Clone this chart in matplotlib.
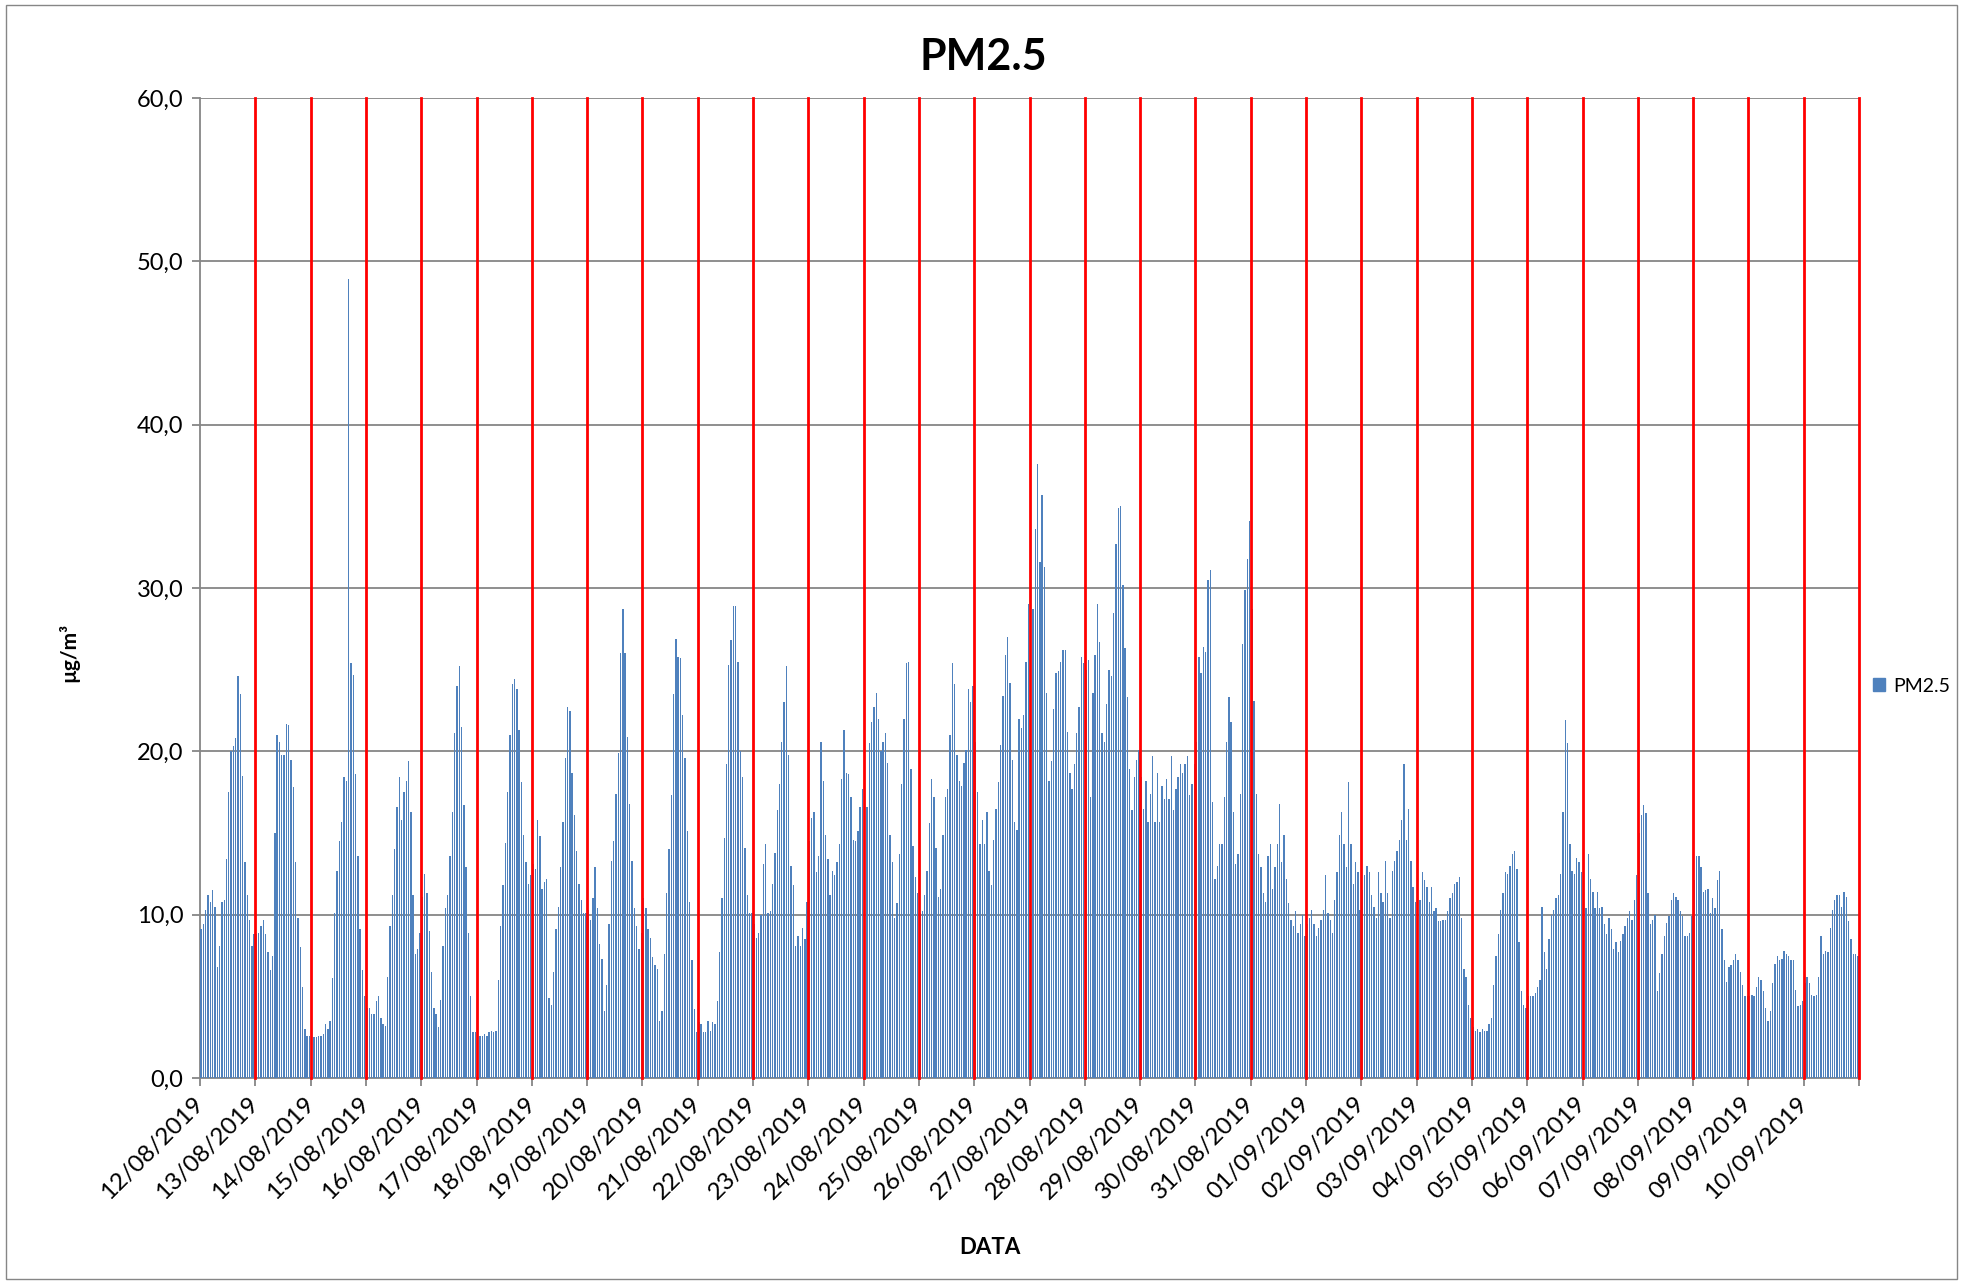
import numpy as np
import matplotlib.pyplot as plt
from matplotlib.patches import Rectangle, Patch
from matplotlib.ticker import FuncFormatter

plt.rcParams['font.family'] = ['Lato', 'DejaVu Sans']

# Hourly PM2.5 (ug/m3), one list per day
d1208 = [9.1, 9.4, 10.3, 11.2, 10.8, 11.5, 10.5, 6.8, 8.1, 10.8, 10.9, 13.4, 17.5, 20.0, 20.3, 20.8, 24.6, 23.5, 18.5, 13.2, 11.2, 9.7, 8.1, 8.8]
d1308 = [8.8, 8.9, 9.3, 9.7, 8.8, 7.7, 6.6, 7.5, 15.0, 21.0, 20.6, 19.8, 19.8, 21.7, 21.6, 19.5, 17.8, 13.2, 9.8, 8.0, 5.6, 3.0, 2.6, 2.6]
d1408 = [2.5, 2.5, 2.5, 2.6, 2.6, 2.7, 3.3, 3.0, 3.5, 6.1, 10.1, 12.7, 14.5, 15.7, 18.4, 18.2, 48.9, 25.4, 24.7, 18.6, 13.6, 9.1, 6.6, 5.0]
d1508 = [4.3, 4.3, 3.9, 3.9, 4.7, 5.0, 3.7, 3.3, 3.2, 6.2, 9.3, 11.2, 14.0, 16.6, 18.4, 15.8, 17.5, 18.2, 19.4, 16.3, 11.2, 7.6, 7.9, 8.9]
d1608 = [11.1, 12.5, 11.3, 9.0, 6.5, 4.3, 3.9, 3.1, 4.8, 8.1, 10.4, 11.2, 13.6, 16.3, 21.1, 24.0, 25.2, 21.5, 16.7, 12.9, 8.9, 5.0, 2.8, 2.8]
d1708 = [2.7, 2.6, 2.6, 2.7, 2.6, 2.8, 2.9, 2.8, 2.9, 6.0, 9.3, 11.8, 14.4, 17.5, 21.0, 24.1, 24.4, 23.8, 21.3, 18.1, 14.9, 13.2, 11.9, 12.4]
d1808 = [13.1, 12.8, 15.8, 14.8, 11.6, 12.0, 12.2, 4.9, 4.5, 6.5, 9.1, 10.5, 12.9, 15.7, 19.6, 22.7, 22.5, 18.7, 16.1, 13.9, 11.9, 10.9, 10.1, 10.1]
d1908 = [10.3, 9.7, 11.0, 12.9, 10.4, 8.2, 7.3, 4.1, 5.7, 9.4, 13.3, 14.5, 17.4, 19.9, 26.0, 28.7, 26.0, 20.9, 16.8, 13.3, 10.4, 9.3, 7.9, 8.9]
d2008 = [11.0, 10.4, 9.1, 8.6, 7.4, 6.9, 6.7, 3.5, 4.1, 7.6, 11.3, 14.0, 17.3, 23.5, 26.9, 25.8, 25.7, 22.2, 19.6, 15.1, 10.8, 7.2, 4.2, 2.8]
d2108 = [3.4, 3.3, 2.8, 2.8, 3.5, 2.9, 3.4, 3.3, 4.7, 7.7, 11.0, 14.7, 19.2, 25.3, 26.8, 28.9, 28.9, 25.5, 20.0, 18.4, 14.1, 11.2, 10.1, 10.1]
d2208 = [9.4, 8.6, 8.9, 10.0, 13.1, 14.3, 10.1, 10.2, 11.9, 13.8, 16.4, 18.0, 20.6, 23.0, 25.2, 19.8, 13.0, 11.8, 8.1, 8.7, 8.1, 9.2, 8.5, 10.8]
d2308 = [14.5, 15.9, 16.3, 12.6, 13.6, 20.6, 18.2, 14.9, 13.4, 11.2, 12.7, 12.4, 13.2, 14.3, 18.3, 21.3, 18.7, 18.6, 17.2, 14.6, 14.5, 15.1, 16.6, 17.7]
d2408 = [17.5, 16.6, 20.5, 21.8, 22.7, 23.6, 22.0, 20.0, 20.6, 21.1, 19.3, 14.9, 13.2, 9.8, 10.7, 13.7, 18.0, 22.0, 25.4, 25.5, 18.9, 14.2, 12.3, 11.3]
d2508 = [10.1, 10.2, 11.2, 12.7, 15.6, 18.3, 17.2, 14.1, 11.1, 11.6, 14.9, 17.2, 17.7, 21.0, 25.4, 24.1, 19.8, 18.2, 17.9, 19.3, 20.1, 23.8, 23.0, 24.0]
d2608 = [20.6, 17.5, 14.3, 15.8, 14.3, 16.3, 12.7, 11.8, 14.6, 16.5, 18.1, 20.4, 23.4, 25.9, 27.0, 24.2, 19.5, 15.7, 15.2, 22.0, 21.4, 22.2, 25.5, 29.0]
d2708 = [30.7, 28.7, 33.6, 37.6, 31.6, 35.7, 31.3, 23.6, 18.2, 19.4, 22.6, 24.8, 24.9, 25.5, 26.2, 26.2, 21.2, 18.7, 17.7, 19.2, 21.1, 22.7, 25.8, 25.4]
d2808 = [25.0, 25.6, 17.2, 23.6, 25.9, 29.0, 26.7, 21.1, 20.6, 22.9, 25.0, 24.6, 28.5, 32.7, 34.9, 35.0, 30.2, 26.3, 23.3, 18.9, 16.4, 18.4, 19.5, 20.1]
d2908 = [18.4, 16.5, 18.2, 15.7, 17.4, 19.7, 15.7, 18.7, 15.7, 17.9, 17.1, 18.3, 17.1, 19.7, 16.4, 17.7, 18.4, 19.2, 18.7, 19.2, 19.7, 17.3, 18.0, 19.2]
d3008 = [20.6, 25.8, 24.8, 26.4, 26.1, 30.5, 31.1, 16.9, 12.2, 13.0, 14.3, 14.3, 17.2, 20.6, 23.3, 21.8, 16.3, 13.1, 13.7, 17.4, 26.6, 29.9, 31.8, 34.1]
d3108 = [28.7, 23.1, 17.4, 13.7, 12.9, 11.3, 10.8, 13.6, 14.3, 11.6, 12.9, 14.3, 16.8, 13.2, 14.9, 12.2, 10.7, 9.7, 9.3, 10.2, 8.9, 9.4, 10.0, 8.7]
d0109 = [9.4, 9.8, 10.3, 9.4, 8.7, 9.2, 9.7, 10.3, 12.4, 10.1, 9.7, 8.9, 10.9, 12.6, 14.9, 16.3, 14.3, 12.9, 18.1, 14.3, 11.9, 13.2, 12.6, 10.3]
d0209 = [11.5, 12.4, 13.0, 12.6, 11.2, 10.5, 9.8, 12.6, 11.3, 10.8, 13.3, 11.3, 9.8, 12.7, 13.3, 13.9, 14.6, 15.8, 19.2, 14.6, 16.5, 13.3, 11.7, 10.8]
d0309 = [10.3, 10.9, 12.6, 12.1, 11.7, 10.8, 11.7, 10.2, 10.4, 9.6, 9.6, 9.7, 9.7, 10.2, 11.0, 11.3, 11.9, 12.0, 12.3, 9.8, 6.7, 6.2, 4.5, 3.7]
d0409 = [3.1, 2.9, 3.0, 2.8, 3.0, 2.9, 2.9, 3.3, 3.7, 5.7, 7.5, 8.8, 10.3, 11.3, 12.6, 12.5, 13.0, 13.7, 13.9, 12.8, 8.3, 5.3, 4.5, 4.3]
d0509 = [5.0, 5.0, 5.0, 5.2, 5.6, 6.0, 10.5, 7.7, 6.7, 8.5, 10.0, 10.3, 11.0, 11.2, 12.5, 16.3, 21.9, 20.5, 14.3, 12.7, 12.5, 13.5, 13.2, 12.6]
d0609 = [11.3, 10.4, 13.7, 12.2, 11.4, 10.4, 11.4, 10.4, 10.5, 9.4, 8.8, 9.8, 9.1, 7.9, 8.3, 7.7, 8.4, 8.8, 9.3, 9.8, 10.2, 9.7, 10.9, 12.4]
d0709 = [15.0, 16.1, 16.7, 16.2, 11.3, 9.4, 9.7, 10.0, 5.3, 6.4, 7.6, 8.7, 9.5, 9.9, 10.9, 11.3, 11.1, 10.9, 10.2, 9.9, 8.7, 8.7, 8.9, 9.9]
d0809 = [12.1, 13.6, 13.6, 12.9, 11.4, 11.5, 11.6, 10.1, 11.0, 10.4, 12.1, 12.7, 9.1, 7.2, 5.9, 6.8, 6.9, 7.2, 7.6, 7.2, 6.5, 5.7, 5.0, 5.0]
d0909 = [5.0, 5.1, 5.0, 5.6, 6.2, 6.0, 5.3, 4.3, 3.5, 4.1, 5.8, 7.0, 7.5, 7.2, 7.3, 7.8, 7.6, 7.5, 7.2, 7.2, 5.4, 4.4, 4.5, 4.7]
d1009 = [5.8, 6.2, 5.8, 5.1, 5.0, 5.1, 6.2, 8.7, 7.6, 7.8, 7.7, 9.2, 10.3, 10.9, 11.2, 11.2, 10.5, 11.4, 11.1, 9.6, 8.5, 7.6, 7.6, 7.5]

# tick labels, one per day
day_labels = ['12/08/2019', '13/08/2019', '14/08/2019', '15/08/2019', '16/08/2019',
              '17/08/2019', '18/08/2019', '19/08/2019', '20/08/2019', '21/08/2019',
              '22/08/2019', '23/08/2019', '24/08/2019', '25/08/2019', '26/08/2019',
              '27/08/2019', '28/08/2019', '29/08/2019', '30/08/2019', '31/08/2019',
              '01/09/2019', '02/09/2019', '03/09/2019', '04/09/2019', '05/09/2019',
              '06/09/2019', '07/09/2019', '08/09/2019', '09/09/2019', '10/09/2019']

days = [d1208, d1308, d1408, d1508, d1608, d1708, d1808, d1908, d2008, d2108,
        d2208, d2308, d2408, d2508, d2608, d2708, d2808, d2908, d3008, d3108,
        d0109, d0209, d0309, d0409, d0509, d0609, d0709, d0809, d0909, d1009]

pm25 = np.concatenate(days)
hours = np.arange(len(pm25))
n_hours = 24 * len(days)

W, H = 1966, 1281
fig = plt.figure(figsize=(W / 100, H / 100), dpi=100)
ax = fig.add_axes([200 / W, 1 - 1078 / H, (1859 - 200) / W, (1078 - 98) / H])

bar_color = '#4F81BD'
grey = '#868686'

ax.bar(hours + 0.5, pm25, width=0.6, color=bar_color, linewidth=0, zorder=3)

ax.set_xlim(0, n_hours)
ax.set_ylim(0, 60)
ax.set_yticks(np.arange(0, 61, 10))
ax.yaxis.set_major_formatter(FuncFormatter(lambda v, p: f'{v:.1f}'.replace('.', ',')))
ax.grid(axis='y', color=grey, linewidth=1.3, zorder=1)

# red separators at every day boundary
for k in range(1, len(days) + 1):
    ax.axvline(24 * k, color='#FF0000', linewidth=2.0, zorder=4, clip_on=False)

ax.set_xticks(np.arange(0, n_hours + 1, 24))
ax.set_xticklabels(day_labels + [''], rotation=45, ha='right', va='center',
                   rotation_mode='anchor')

for s in ['top', 'right']:
    ax.spines[s].set_visible(False)
for s in ['left', 'bottom']:
    ax.spines[s].set_color(grey)
    ax.spines[s].set_linewidth(1.3)
ax.tick_params(axis='both', direction='out', length=6, width=1.3, color=grey,
               labelsize=17, labelcolor='black')
ax.tick_params(axis='x', pad=10, labelsize=17.5)
ax.tick_params(axis='y', pad=6)

# titles and axis names
fig.text(983 / W, 1 - 57 / H, 'PM2.5', ha='center', va='center', fontsize=31, fontweight='bold')
fig.text(69 / W, 1 - 652 / H, 'µg/m³', ha='center', va='center', rotation=90,
         fontsize=15, fontweight='bold')
fig.text(990 / W, 1 - 1248 / H, 'DATA', ha='center', va='center', fontsize=16, fontweight='bold')

# legend on the right
fig.legend(handles=[Patch(color=bar_color, label='PM2.5')], loc='center left',
           bbox_to_anchor=(1855 / W, 1 - 686 / H), frameon=False, fontsize=14,
           handlelength=0.65, handleheight=0.65, handletextpad=0.4)

# chart area border
fig.add_artist(Rectangle((6 / W, 2 / H), 1951 / W, 1274 / H, transform=fig.transFigure,
                         fill=False, edgecolor=grey, linewidth=1))

fig.savefig('out.png', dpi=100)
